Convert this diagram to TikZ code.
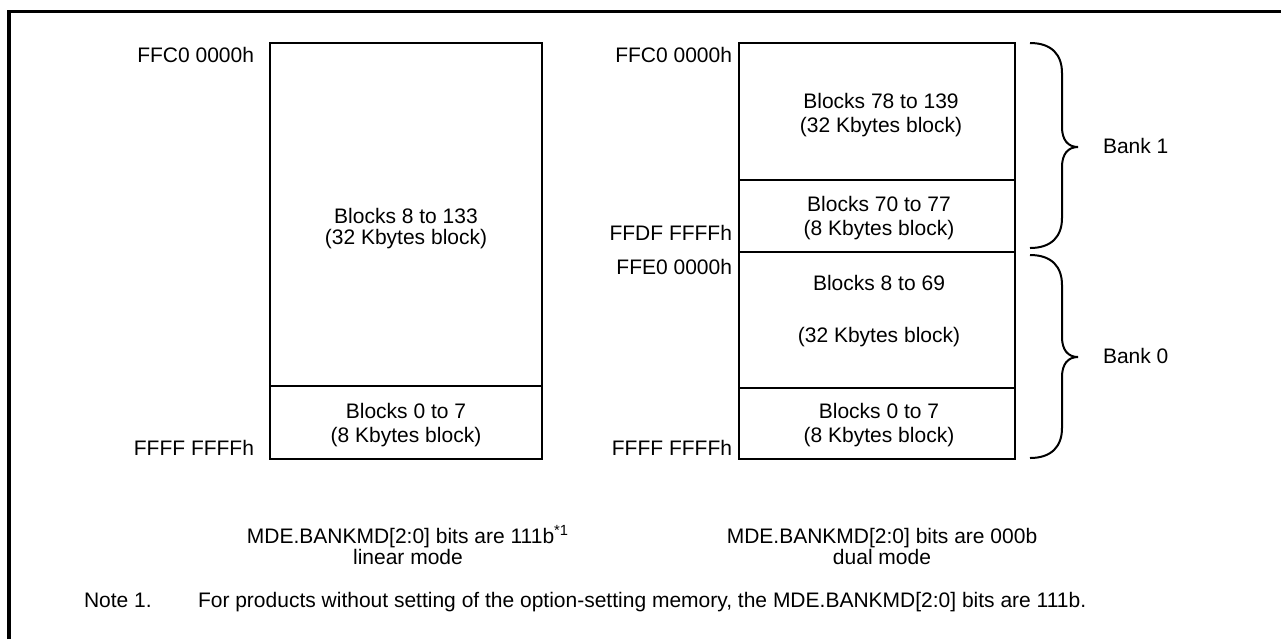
\documentclass[tikz,border=0pt]{standalone}
\usepackage{fontspec}
\setmainfont{Liberation Sans}
\begin{document}
\begin{tikzpicture}[x=0.5pt,y=-0.5pt,line width=1pt,
  every node/.style={font=\fontsize{10.5}{12}\selectfont,inner sep=0pt},
  addr/.style={anchor=base east},
  blk/.style={anchor=base,align=center}]
\useasboundingbox (0,0) rectangle (1281,639);
% frame (open at right and bottom)
\draw[line width=1.65pt] (9,639) -- (9,11.5) -- (1281,11.5);
% linear mode
\draw (270,43) rectangle (542,459);
\draw (270,386) -- (542,386);
\node[addr] (LTop) at (255,62) {FFC0 0000h};
\node[addr] (LBot) at (255,455) {FFFF FFFFh};
\node[blk] (LHigh) at (406,244) {Blocks 8 to 133\\[-1.5pt](32 Kbytes block)};
\node[blk] (LLow) at (406,442) {Blocks 0 to 7\\(8 Kbytes block)};
% dual mode
\draw (739,43) rectangle (1015,459);
\draw (739,180) -- (1015,180);
\draw (739,251.5) -- (1015,251.5);
\draw (739,388) -- (1015,388);
\node[addr] (RTop) at (733,62) {FFC0 0000h};
\node[addr] (REnd1) at (733,240) {FFDF FFFFh};
\node[addr] (RStart0) at (733,274) {FFE0 0000h};
\node[addr] (RBot) at (733,455) {FFFF FFFFh};
\node[blk] (B1High) at (881,132) {Blocks 78 to 139\\(32 Kbytes block)};
\node[blk] (B1Low) at (879,235) {Blocks 70 to 77\\(8 Kbytes block)};
\node[blk] (B0High) at (879,342) {Blocks 8 to 69\\[14pt](32 Kbytes block)};
\node[blk] (B0Low) at (879,442) {Blocks 0 to 7\\(8 Kbytes block)};
% banks
\draw (1030,43) .. controls (1052,43) and (1062,55) .. (1062,73)
  -- (1062,127) .. controls (1062,140) and (1068,147) .. (1078,147)
  .. controls (1068,147) and (1062,154) .. (1062,167)
  -- (1062,218) .. controls (1062,236) and (1052,248) .. (1030,248);
\draw (1030,255) .. controls (1052,255) and (1062,267) .. (1062,285)
  -- (1062,337) .. controls (1062,350) and (1068,357) .. (1078,357)
  .. controls (1068,357) and (1062,364) .. (1062,377)
  -- (1062,428) .. controls (1062,446) and (1052,458) .. (1030,458);
\node[anchor=base west] (Bank1) at (1102,153) {Bank 1};
\node[anchor=base west] (Bank0) at (1102,363) {Bank 0};
% captions
\node[blk] (LinCap) at (408,564) {MDE.BANKMD[2:0] bits are 111b\textsuperscript{*1}\\[-1.5pt]linear mode};
\node[blk] (DualCap) at (882,564) {MDE.BANKMD[2:0] bits are 000b\\[-1.5pt]dual mode};
\node[anchor=base west] (NoteNo) at (83,607) {Note 1.};
\node[anchor=base west] (NoteTxt) at (197,607) {For products without setting of the option-setting memory, the MDE.BANKMD[2:0] bits are 111b.};
\end{tikzpicture}
\end{document}
